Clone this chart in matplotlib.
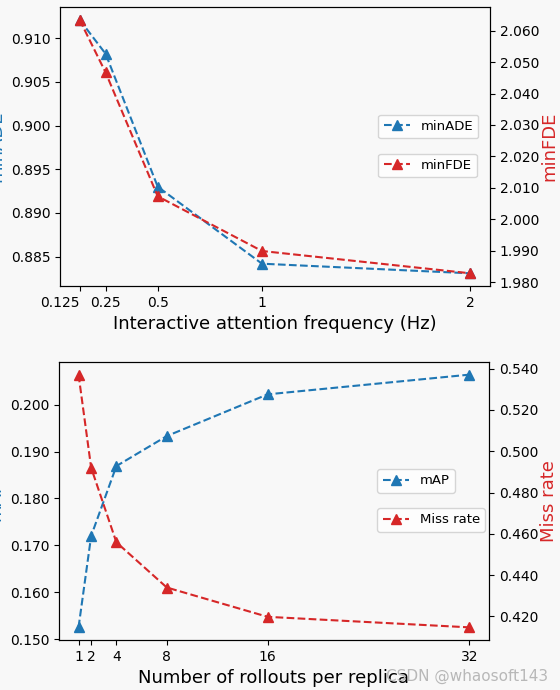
import numpy as np
import matplotlib
matplotlib.use("Agg")
from matplotlib import pyplot as plt
from matplotlib.ticker import MultipleLocator, FormatStrFormatter

# top panel: interactive attention frequency
freq = [0.125, 0.25, 0.5, 1, 2]
freq_labels = ["0.125", "0.25", "0.5", "1", "2"]
min_ade = [0.9121, 0.9082, 0.8930, 0.8842, 0.8831]
min_fde = [2.0635, 2.0467, 2.0073, 1.9899, 1.9828]

# bottom panel: rollouts per replica
rollouts = [1, 2, 4, 8, 16, 32]
m_ap = [0.1525, 0.1720, 0.1869, 0.1933, 0.2022, 0.2064]
miss_rate = [0.5371, 0.4920, 0.4559, 0.4340, 0.4198, 0.4147]

blue = "#1f77b4"
red = "#d62728"
bg = "#f8f8f8"

fig = plt.figure(figsize=(5.6, 6.9), dpi=100, facecolor=bg)

def panel(rect, x, y1, y2, xt, xtl, xlabel, l1, l2, step1, step2):
    ax = fig.add_axes(rect, facecolor=bg)
    ax.plot(x, y1, "--", marker="^", color=blue, ms=7, lw=1.5, label=l1)
    ax.set_ylabel(l1, color=blue, fontsize=13)
    ax.set_xlabel(xlabel, fontsize=13)
    ax.set_xticks(xt)
    ax.set_xticklabels(xtl)
    ax.yaxis.set_major_locator(MultipleLocator(step1))
    ax.yaxis.set_major_formatter(FormatStrFormatter("%.3f"))
    ax.tick_params(labelsize=10)
    ax2 = ax.twinx()
    ax2.plot(x, y2, "--", marker="^", color=red, ms=7, lw=1.5, label=l2)
    ax2.set_ylabel(l2, color=red, fontsize=13, labelpad=1)
    ax2.yaxis.set_major_locator(MultipleLocator(step2))
    ax2.yaxis.set_major_formatter(FormatStrFormatter("%.3f"))
    ax2.tick_params(labelsize=10)
    ax.legend(loc="center left", bbox_to_anchor=(0.725, 0.572), fontsize=9.5, facecolor="white")
    ax2.legend(loc="center left", bbox_to_anchor=(0.725, 0.432), fontsize=9.5, facecolor="white")
    return ax, ax2

ax_top, _ = panel([60/560, 1-286/690, 430/560, 279/690], freq, min_ade, min_fde, freq, freq_labels,
                  "Interactive attention frequency (Hz)", "minADE", "minFDE", 0.005, 0.010)
ax_top.get_xticklabels()[0].set_horizontalalignment("right")

panel([59/560, 1-640/690, 430/560, 278/690], rollouts, m_ap, miss_rate, rollouts,
      [str(r) for r in rollouts], "Number of rollouts per replica", "mAP", "Miss rate", 0.010, 0.020)

fig.text(548/560, 0.008, "CSDN @whaosoft143", ha="right", va="bottom", fontsize=11, color="#b8b8b8")

fig.savefig("out.png", dpi=100, facecolor=bg)
